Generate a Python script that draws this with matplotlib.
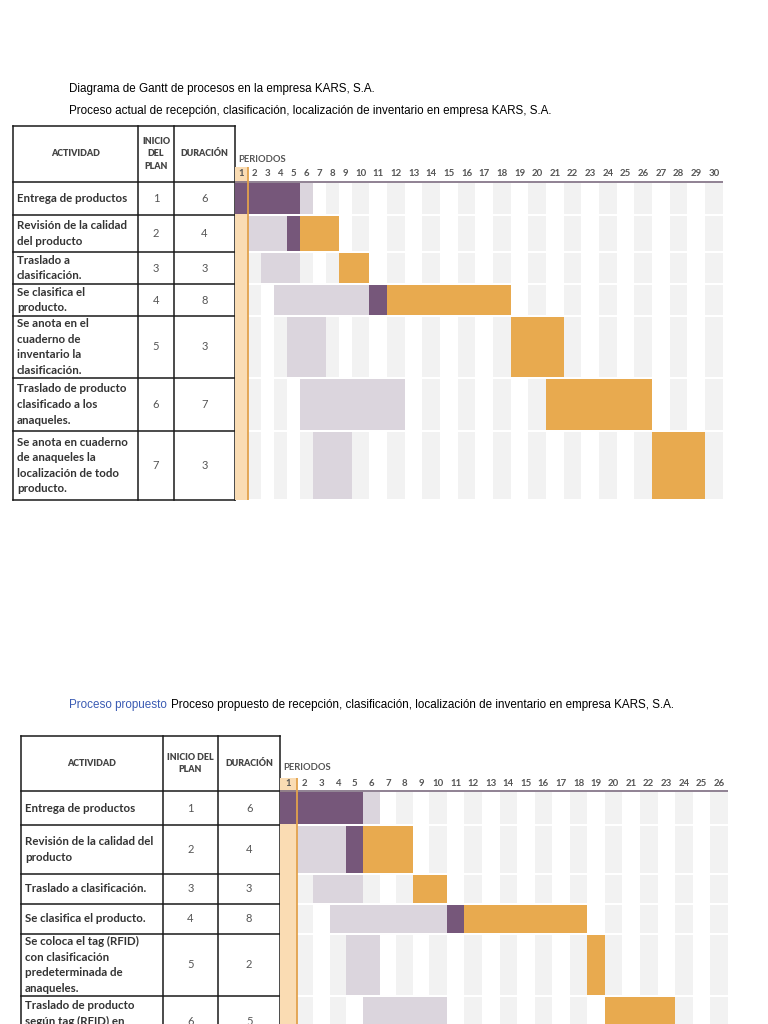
import numpy as np
import matplotlib.pyplot as plt

W, H = 768, 1024

# ---------------- datos ----------------
titulo1 = "Diagrama de Gantt de procesos en la empresa KARS, S.A."
titulo2 = "Proceso actual de recepción, clasificación, localización de inventario en empresa KARS, S.A."
titulo3_azul = "Proceso propuesto"
titulo3 = "Proceso propuesto de recepción, clasificación, localización de inventario en empresa KARS, S.A."

# proceso actual
actividades_act = ["Entrega de productos",
                   "Revisión de la calidad\ndel producto",
                   "Traslado a\nclasificación.",
                   "Se clasifica el\nproducto.",
                   "Se anota en el\ncuaderno de\ninventario la\nclasificación.",
                   "Traslado de producto\nclasificado a los\nanaqueles.",
                   "Se anota en cuaderno\nde anaqueles la\nlocalización de todo\nproducto."]
inicio_act = [1, 2, 3, 4, 5, 6, 7]
duracion_act = [6, 4, 3, 8, 3, 7, 3]
real_ini_act = [1, 5, 9, 11, 19, 21, 27]
real_dur_act = [5, 4, 2, 8, 3, 6, 3]
periodos_act = list(range(1, 31))
encab_act = ["ACTIVIDAD", "INICIO\nDEL\nPLAN", "DURACIÓN"]

# proceso propuesto
actividades_pro = ["Entrega de productos",
                   "Revisión de la calidad del\nproducto",
                   "Traslado a clasificación.",
                   "Se clasifica el producto.",
                   "Se coloca el tag (RFID)\ncon clasificación\npredeterminada de\nanaqueles.",
                   "Traslado de producto\nsegún tag (RFID) en\nanaqueles."]
inicio_pro = [1, 2, 3, 4, 5, 6]
duracion_pro = [6, 4, 3, 8, 2, 5]
real_ini_pro = [1, 5, 9, 11, 19, 20]
real_dur_pro = [5, 4, 2, 8, 1, 4]
periodos_pro = list(range(1, 27))
encab_pro = ["ACTIVIDAD", "INICIO DEL\nPLAN", "DURACIÓN"]

# colores
lila = '#dbd5dd'
morado = '#76577a'
naranja = '#e8aa4f'
durazno = '#fadcb3'
gris = '#f2f2f2'
texto = '#333333'
FT = 'Lato'

fig = plt.figure(figsize=(W / 100, H / 100), dpi=100)
ax0 = fig.add_axes([0, 0, 1, 1])
ax0.set_xlim(0, W)
ax0.set_ylim(H, 0)
ax0.axis('off')


def tabla(cols_x, filas_y, actividades, inicio, duracion, encab):
    for x in cols_x:
        ax0.plot([x, x], [filas_y[0], filas_y[-1]], color='#1a1a1a', lw=1.1)
    for y in filas_y:
        ax0.plot([cols_x[0], cols_x[-1]], [y, y], color='#1a1a1a', lw=1.1)
    yh = (filas_y[0] + filas_y[1]) / 2
    for j, h in enumerate(encab):
        ax0.text((cols_x[j] + cols_x[j + 1]) / 2, yh, h, ha='center', va='center',
                 fontsize=6.4, fontweight='heavy', color='#444444', family=FT,
                 linespacing=1.45)
    for i, act in enumerate(actividades):
        yc = (filas_y[i + 1] + filas_y[i + 2]) / 2
        ax0.text(cols_x[0] + 4, yc, act, ha='left', va='center', fontsize=8.3,
                 fontweight='bold', color=texto, family=FT, linespacing=1.5)
        ax0.text((cols_x[1] + cols_x[2]) / 2, yc, str(inicio[i]), ha='center',
                 va='center', fontsize=8, color='#555555', family=FT)
        ax0.text((cols_x[2] + cols_x[3]) / 2, yc, str(duracion[i]), ha='center',
                 va='center', fontsize=8, color='#555555', family=FT)


def gantt(x0, anchos, y_top, y_num, filas_y, periodos, ini, dur, r_ini, r_dur):
    bordes_px = x0 + np.concatenate([[0], np.cumsum(anchos)])
    bordes_p = np.arange(periodos[0], periodos[-1] + 2, dtype=float)
    y_bot = filas_y[-1]
    ax = fig.add_axes([bordes_px[0] / W, 1 - y_bot / H,
                       (bordes_px[-1] - bordes_px[0]) / W, (y_bot - y_top) / H])
    ax.set_xscale('function', functions=(lambda v: np.interp(v, bordes_p, bordes_px),
                                         lambda v: np.interp(v, bordes_px, bordes_p)))
    ax.set_xlim(bordes_p[0], bordes_p[-1])
    ax.set_ylim(y_bot, y_top)
    ax.axis('off')

    # columna del periodo actual
    ax.axvspan(periodos[0], periodos[0] + 1, color=durazno, lw=0, zorder=0.5)
    ax.axvline(periodos[0] + 1, color='#e2a24c', lw=1.3, zorder=6)

    # numeros de periodo y linea
    for p in periodos:
        ax.text(p + 0.5, y_num, str(p), ha='center', va='center', fontsize=6.9,
                fontweight='bold', color='#555555', family=FT)
    ax.plot([bordes_p[0], bordes_p[-1]], [filas_y[1], filas_y[1]], color='#7d6c80', lw=1.2)

    filas = filas_y[1:]
    for i in range(len(ini)):
        yc = (filas[i] + filas[i + 1]) / 2
        hh = filas[i + 1] - filas[i] - 2
        pares = [p for p in periodos if p % 2 == 0]
        ax.barh([yc] * len(pares), [1] * len(pares), left=pares, height=hh,
                color=gris, lw=0, zorder=1)
        # plan
        ax.barh(yc, dur[i], left=ini[i], height=hh, color=lila, lw=0, zorder=2)
        # real
        r_fin = r_ini[i] + r_dur[i]
        p_fin = ini[i] + dur[i]
        a, b = max(r_ini[i], ini[i]), min(r_fin, p_fin)
        if b > a:
            ax.barh(yc, b - a, left=a, height=hh, color=morado, lw=0, zorder=3)
        if r_ini[i] < ini[i]:
            ax.barh(yc, min(r_fin, ini[i]) - r_ini[i], left=r_ini[i], height=hh,
                    color=naranja, lw=0, zorder=3)
        if r_fin > p_fin:
            s = max(r_ini[i], p_fin)
            ax.barh(yc, r_fin - s, left=s, height=hh, color=naranja, lw=0, zorder=3)
    return ax


def anchos_col(periodos, a1, a2):
    return [a1 if p < 10 else a2 for p in periodos]


# ---------------- textos ----------------
ax0.text(69, 89, titulo1, ha='left', va='center', fontsize=8.35, family='Liberation Sans')
ax0.text(69, 111, titulo2, ha='left', va='center', fontsize=8.35, family='Liberation Sans')
t_az = ax0.text(69, 705, titulo3_azul, ha='left', va='center', fontsize=8.35,
                family='Liberation Sans', color='#3a5bb3')
fig.canvas.draw()
bb = t_az.get_window_extent().transformed(ax0.transData.inverted())
ax0.text(bb.x1 + 4, 705, titulo3, ha='left', va='center', fontsize=8.35,
         family='Liberation Sans')

# ---------------- proceso actual ----------------
filas_act = [126, 182, 215, 252, 284, 316, 378, 431, 500]
tabla([13, 138, 174, 234.7], filas_act, actividades_act, inicio_act, duracion_act, encab_act)
ax0.text(238, 159, "PERIODOS", ha='left', va='center', fontsize=6.8, fontweight='bold',
         color='#555555', family=FT)
gantt(234.7, anchos_col(periodos_act, 13.0, 17.67), 167, 174, filas_act,
      periodos_act, inicio_act, duracion_act, real_ini_act, real_dur_act)

# ---------------- proceso propuesto ----------------
filas_pro = [736, 791, 825, 874, 904, 934, 996, 1047]
tabla([21, 162.5, 218.3, 280], filas_pro, actividades_pro, inicio_pro, duracion_pro, encab_pro)
ax0.text(283, 768, "PERIODOS", ha='left', va='center', fontsize=6.8, fontweight='bold',
         color='#555555', family=FT)
gantt(280, anchos_col(periodos_pro, 16.6, 17.55), 778, 784, filas_pro,
      periodos_pro, inicio_pro, duracion_pro, real_ini_pro, real_dur_pro)

fig.savefig('out.png', dpi=100)
